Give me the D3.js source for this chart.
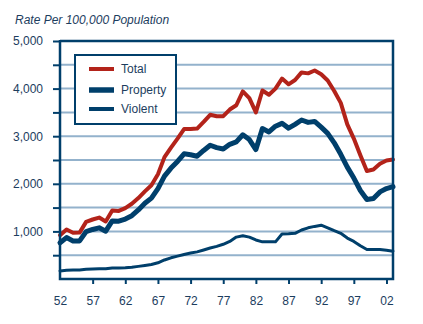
<!DOCTYPE html>
<html>
<head>
<meta charset="utf-8" />
<title>Crime rate per 100,000 population</title>
<script src="https://d3js.org/d3.v7.min.js"></script>
<style>
  body { margin: 0; background: #fff; font-family: "Liberation Sans", Arial, sans-serif; }
  .tick-label { font-size: 12px; fill: #1c3d5e; }
</style>
</head>
<body>
<div id="graphic"></div>
<script>
// years 1952 - 2003
var years = d3.range(1952, 2004);

var total = [920, 1040, 970, 975, 1200, 1250, 1290, 1210, 1440, 1430,
  1490, 1580, 1700, 1840, 1970, 2200, 2560, 2760, 2950, 3150,
  3150, 3160, 3300, 3450, 3420, 3420, 3560, 3650, 3940, 3800,
  3500, 3960, 3870, 4000, 4210, 4090, 4180, 4340, 4320, 4380,
  4300, 4170, 3950, 3700, 3250, 2950, 2600, 2270, 2300, 2420,
  2490, 2510];

var property = [760, 870, 800, 800, 995, 1040, 1075, 1005, 1220, 1215,
  1260, 1330, 1450, 1590, 1700, 1900, 2160, 2330, 2470, 2630,
  2610, 2580, 2700, 2810, 2760, 2730, 2830, 2880, 3030, 2930,
  2720, 3160, 3090, 3210, 3270, 3170, 3250, 3340, 3290, 3310,
  3190, 3060, 2860, 2620, 2350, 2120, 1860, 1670, 1690, 1830,
  1900, 1940];

var violent = [170, 185, 190, 190, 205, 210, 215, 215, 230, 232,
  238, 248, 265, 285, 305, 340, 400, 445, 480, 515,
  545, 570, 610, 650, 685, 730, 790, 880, 910, 880,
  820, 780, 780, 780, 945, 950, 960, 1030, 1075, 1105,
  1130, 1075, 1015, 960, 860, 790, 700, 620, 620, 620,
  605, 585];

var yTicks = [0, 500, 1000, 1500, 2000, 2500, 3000, 3500, 4000, 4500, 5000];
var xTicks = [1952, 1957, 1962, 1967, 1972, 1977, 1982, 1987, 1992, 1997, 2002];

var navy = "#003f6b",
    red = "#b3231a",
    grid = "#93b2cc",
    textCol = "#1c3d5e";

var series = [
  { name: "Total", values: total, color: red, width: 4 },
  { name: "Property", values: property, color: navy, width: 5 },
  { name: "Violent", values: violent, color: navy, width: 3 }
];

var W = 423, H = 324;
var plot = { left: 60, right: 393, top: 41, bottom: 279 };

var svg = d3.select("#graphic").append("svg")
    .attr("width", W)
    .attr("height", H);

var x = d3.scaleLinear().domain([1952, 2003]).range([plot.left, plot.right]);
var y = d3.scaleLinear().domain([0, 5000]).range([plot.bottom, plot.top]);

// title
svg.append("text")
    .attr("x", 15)
    .attr("y", 24)
    .style("font-size", "12px")
    .style("font-style", "italic")
    .style("fill", textCol)
    .text("Rate Per 100,000 Population");

// gridlines
svg.append("g")
    .selectAll("line")
    .data(yTicks.filter(function (d) { return d > 0 && d < 5000; }))
    .enter().append("line")
    .attr("x1", plot.left).attr("x2", plot.right)
    .attr("y1", function (d) { return y(d); })
    .attr("y2", function (d) { return y(d); })
    .style("stroke", grid)
    .style("stroke-width", 2);

// lines
var line = d3.line()
    .x(function (d, i) { return x(years[i]); })
    .y(function (d) { return y(d); });

svg.append("g").selectAll("path")
    .data(series.slice().reverse())
    .enter().append("path")
    .attr("d", function (s) { return line(s.values); })
    .style("fill", "none")
    .style("stroke", function (s) { return s.color; })
    .style("stroke-width", function (s) { return s.width; })
    .style("stroke-linejoin", "round")
    .style("stroke-linecap", "round");

// left axis
var yAxis = d3.axisLeft(y)
    .tickValues(yTicks.filter(function (d) { return d > 0; }))
    .tickSize(7)
    .tickPadding(10)
    .tickFormat(function (d) { return d % 1000 === 0 ? d3.format(",")(d) : ""; });

var gy = svg.append("g")
    .attr("transform", "translate(" + plot.left + ",0)")
    .call(yAxis);
gy.select(".domain").remove();
gy.selectAll("line").style("stroke", navy).style("stroke-width", 2);
gy.selectAll("text").attr("class", "tick-label");

// bottom axis
var xAxis = d3.axisBottom(x)
    .tickValues(xTicks)
    .tickSize(5)
    .tickPadding(12)
    .tickFormat(function (d) { return String(d).slice(2); });

var gx = svg.append("g")
    .attr("transform", "translate(0," + plot.bottom + ")")
    .call(xAxis);
gx.select(".domain").remove();
gx.selectAll("line").style("stroke", navy).style("stroke-width", 2);
// no tick mark at the corner
gx.selectAll(".tick").filter(function (d) { return d === 1952; }).select("line").remove();
gx.selectAll("text").attr("class", "tick-label");
gy.attr("font-family", null).attr("font-size", null);
gx.attr("font-family", null).attr("font-size", null);

// frame
svg.append("path")
    .attr("d", "M" + plot.left + "," + (plot.top - 1) + "V" + plot.bottom + "H" + plot.right + "V" + plot.top + "H" + plot.left)
    .style("fill", "none")
    .style("stroke", navy)
    .style("stroke-width", 2.5);

// legend
var lg = svg.append("g");
lg.append("rect")
    .attr("x", 75).attr("y", 55)
    .attr("width", 101).attr("height", 69)
    .style("fill", "#fff")
    .style("stroke", navy)
    .style("stroke-width", 2);

var items = lg.selectAll("g.item")
    .data(series)
    .enter().append("g")
    .attr("transform", function (d, i) { return "translate(89," + [69, 90, 109][i] + ")"; });

items.append("line")
    .attr("x1", 0).attr("x2", 25)
    .style("stroke", function (d) { return d.color; })
    .style("stroke-width", function (d, i) { return [4, 5.5, 4][i]; });

items.append("text")
    .attr("x", 32)
    .attr("y", 4)
    .style("font-size", "12px")
    .style("fill", textCol)
    .text(function (d) { return d.name; });
</script>
</body>
</html>
